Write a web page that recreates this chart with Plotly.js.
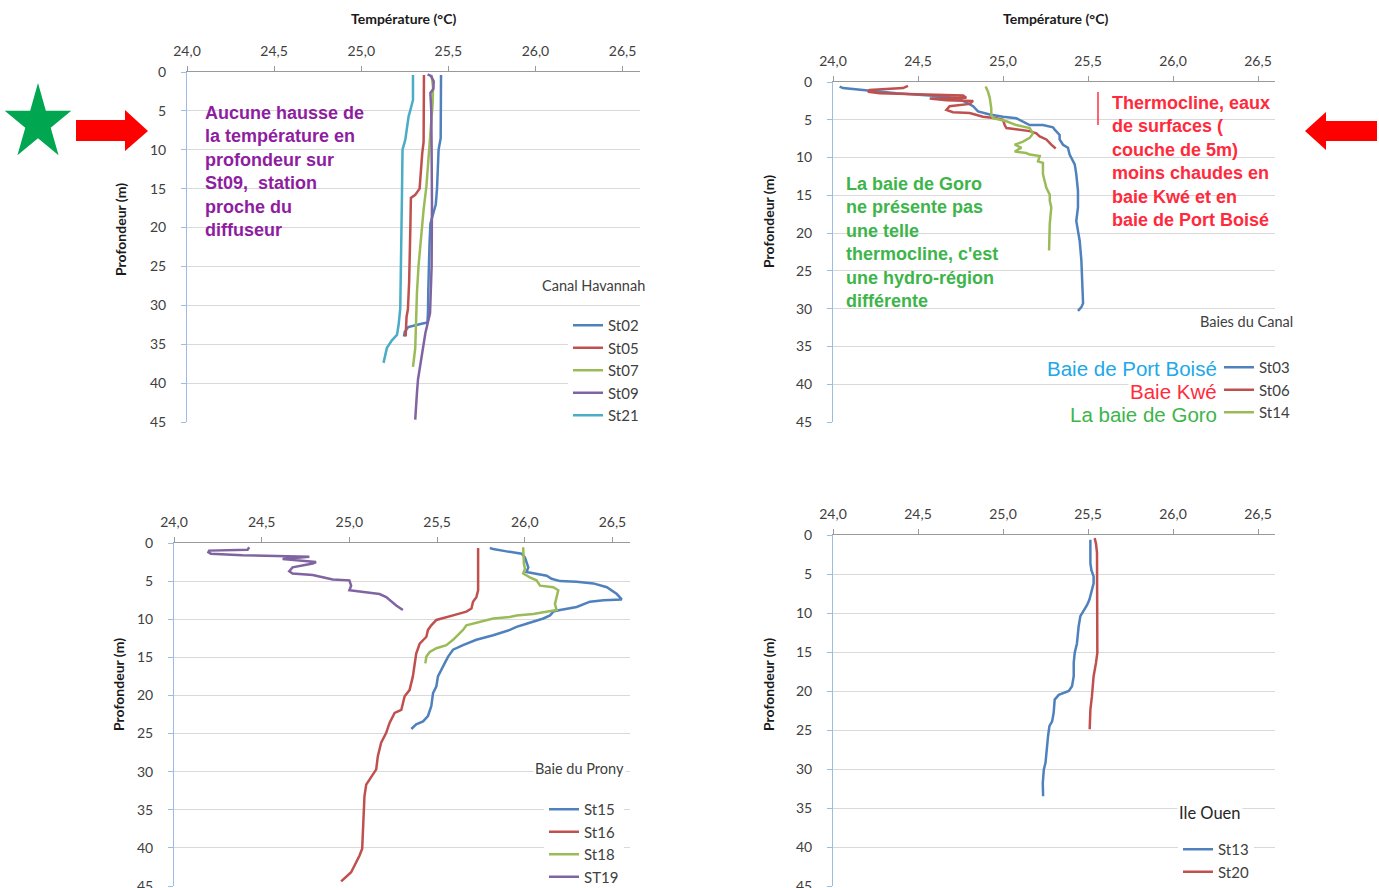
<!DOCTYPE html>
<html><head><meta charset="utf-8">
<script src="https://cdn.plot.ly/plotly-3.0.1.min.js"></script>
<style>html,body{margin:0;padding:0;background:#fff}#chart{width:1379px;height:888px}</style>
</head><body><div id="chart"></div>
<script>
// ---------- Canal Havannah ----------
const st02_T = [25.458,25.458,25.456,25.444,25.440,25.435,25.428,25.410,25.397,25.392,25.387,25.385,25.383,25.380,25.340,25.270,25.250,25.245];
const st02_D = [0.4,5,8.5,10,12.5,15,17,18.5,19.5,22,25,28,31,32.2,32.4,32.8,33.4,34];
const st05_T = [25.360,25.360,25.358,25.350,25.340,25.335,25.310,25.285,25.282,25.280,25.275,25.268,25.260,25.255];
const st05_D = [0.4,5,9,10.5,13,15,15.8,16.2,20,25,27,30.5,31.5,34];
const st07_T = [25.404,25.412,25.410,25.400,25.387,25.374,25.358,25.339,25.329,25.320,25.314,25.310,25.297];
const st07_D = [0.4,1.9,4,7,11.3,14.7,17.7,22.3,24.9,28.3,32.6,35.5,37.9];
const st09_T = [25.381,25.400,25.416,25.414,25.397,25.402,25.404,25.406,25.404,25.395,25.368,25.349,25.335,25.326,25.320,25.310];
const st09_D = [0.3,0.5,1.2,2.2,2.7,5,10,17,25,31,33.6,36.2,38.5,39.5,41.2,44.7];
const st21_T = [25.297,25.297,25.282,25.272,25.253,25.237,25.234,25.230,25.224,25.214,25.205,25.176,25.147,25.138,25.128];
const st21_D = [0.4,3.6,4.9,5.7,8.7,10,15.5,24,30.4,32.6,33.8,34.5,35.5,36.4,37.4];
// ---------- Baies du Canal ----------
const st03_T = [24.039,24.059,24.176,24.373,24.569,24.725,24.784,24.824,24.853,24.922,25.000,25.039,25.078,25.157,25.235,25.294,25.304,25.333,25.333,25.353,25.382,25.392,25.422,25.431,25.441,25.441,25.431,25.441,25.451,25.461,25.465,25.467,25.471,25.461,25.441];
const st03_D = [0.6,0.8,1.05,1.5,1.8,2.1,2.7,3.2,3.9,4.3,4.6,4.7,4.8,5.7,5.7,6.0,6.3,7.0,7.6,8.3,8.7,9.6,10.9,12.2,14.4,16.6,18.4,19.7,21,23.6,26.3,28.9,29.3,29.8,30.3];
const st06_T = [24.441,24.412,24.216,24.206,24.275,24.471,24.765,24.784,24.569,24.667,24.824,24.804,24.686,24.667,24.706,24.804,24.882,24.961,25.000,25.010,25.020,25.157,25.196,25.216,25.255,25.284,25.310];
const st06_D = [0.5,0.8,1.05,1.3,1.5,1.6,1.8,2.1,2.2,2.4,2.5,2.9,3.2,3.7,4.0,4.1,4.6,4.8,5.0,5.7,6.1,6.5,6.8,7.2,7.6,8.3,8.8];
const st14_T = [24.898,24.912,24.922,24.931,24.931,24.941,25.020,25.078,25.157,25.176,25.157,25.118,25.069,25.108,25.069,25.137,25.157,25.216,25.206,25.235,25.235,25.255,25.275,25.275,25.284,25.275,25.271];
const st14_D = [0.6,1.3,2.1,3.5,4.3,4.8,5.2,5.7,6.1,6.8,7.4,7.9,8.3,8.7,9.2,9.4,9.6,9.8,10.5,10.7,12.2,14.0,14.9,15.7,16.6,18.8,22.3];
// ---------- Baie du Prony ----------
const st15_T = [25.801,25.820,25.896,25.982,26.001,26.010,26.020,26.010,26.067,26.125,26.153,26.201,26.296,26.391,26.468,26.525,26.553,26.449,26.372,26.296,26.201,26.163,26.144,26.106,26.010,25.953,25.915,25.820,25.724,25.667,25.648,25.591,25.563,25.543,25.524,25.505,25.496,25.477,25.467,25.448,25.420,25.381,25.353];
const st15_D = [0.65,0.8,1.1,1.4,1.9,2.7,3.2,3.8,4.0,4.3,4.7,5.0,5.1,5.3,5.8,6.7,7.4,7.5,7.7,8.4,8.8,9.0,9.5,9.9,10.6,11.0,11.4,12.1,12.7,13.2,13.4,14.0,14.9,15.8,16.7,17.5,18.8,19.7,21.4,22.7,23.4,23.8,24.4];
const st16_T = [25.734,25.734,25.724,25.705,25.696,25.667,25.591,25.534,25.496,25.467,25.448,25.439,25.401,25.381,25.372,25.362,25.343,25.315,25.296,25.258,25.229,25.210,25.181,25.162,25.153,25.115,25.096,25.086,25.080,25.073,25.058,25.038,25.010,24.953];
const st16_D = [0.65,6.2,7.1,7.7,8.6,9.0,9.5,9.8,10.1,10.8,11.4,12.3,13.2,14.5,15.8,17.5,19.3,20.1,21.9,22.3,23.6,24.9,26.2,28.0,29.7,31.0,31.7,33.2,37.5,40.1,41.0,41.9,43.2,44.4];
const st18_T = [25.991,25.991,25.995,26.001,25.991,26.029,26.067,26.087,26.163,26.191,26.182,26.172,26.182,26.048,25.953,25.915,25.820,25.744,25.667,25.648,25.591,25.553,25.496,25.458,25.439,25.433];
const st18_D = [0.55,1.9,2.7,3.4,4.0,4.5,4.9,5.6,5.8,6.2,7.1,8.0,8.8,9.3,9.5,9.7,9.9,10.3,10.8,11.4,12.7,13.4,13.8,14.3,14.9,15.8];
const st19_T = [24.429,24.419,24.200,24.196,24.210,24.391,24.772,24.619,24.810,24.791,24.676,24.657,24.676,24.791,24.848,24.905,25.000,25.010,25.000,25.058,25.172,25.210,25.239,25.267,25.305];
const st19_D = [0.55,0.9,1.0,1.2,1.4,1.6,1.8,2.1,2.5,2.7,3.2,3.7,4.0,4.2,4.5,4.8,4.9,5.6,6.2,6.4,6.7,7.1,7.7,8.2,8.8];
// ---------- Ile Ouen ----------
const st13_T = [25.514,25.514,25.520,25.533,25.533,25.523,25.508,25.494,25.475,25.455,25.445,25.435,25.422,25.416,25.416,25.406,25.387,25.328,25.304,25.298,25.289,25.273,25.265,25.250,25.240,25.234,25.236];
const st13_D = [0.6,3.6,4.5,5.3,6.2,7.0,8.3,9.0,9.6,10.4,11.7,13.9,15.1,16.4,18.1,19.4,20.0,20.5,21.1,22.8,23.9,24.5,25.8,29.2,30.1,31.8,33.5];
const st20_T = [25.539,25.547,25.553,25.553,25.555,25.555,25.547,25.533,25.523,25.514,25.510];
const st20_D = [0.4,1.1,2.3,5.3,10.0,15.1,16.4,18.1,20.7,22.4,24.9];

const xTitle = 'Température (°C)';
const yTitle = 'Profondeur (m)';
const groupTitles = ['Canal Havannah','Baies du Canal','Baie du Prony','Ile Ouen'];

const W = 1379, H = 888;
const px = x => x / W, py = y => 1 - y / H;
const BLUE='#4F81BD', RED='#C0504D', GREEN='#9BBB59', PURPLE='#8064A2', CYAN='#4BACC6';

function tr(name, T, D, color, n) {
  const s = n === 1 ? '' : String(n);
  return {x: T, y: D, name: name, type: 'scatter', mode: 'lines',
    line: {color: color, width: 2.5}, xaxis: 'x' + s, yaxis: 'y' + s,
    legend: 'legend' + s, legendgroup: name, hoverinfo: 'skip', cliponaxis: false};
}
const data = [
  tr('St02', st02_T, st02_D, BLUE, 1), tr('St05', st05_T, st05_D, RED, 1),
  tr('St07', st07_T, st07_D, GREEN, 1), tr('St09', st09_T, st09_D, PURPLE, 1),
  tr('St21', st21_T, st21_D, CYAN, 1),
  tr('St03', st03_T, st03_D, BLUE, 2), tr('St06', st06_T, st06_D, RED, 2),
  tr('St14', st14_T, st14_D, GREEN, 2),
  tr('St15', st15_T, st15_D, BLUE, 3), tr('St16', st16_T, st16_D, RED, 3),
  tr('St18', st18_T, st18_D, GREEN, 3), tr('ST19', st19_T, st19_D, PURPLE, 3),
  tr('St13', st13_T, st13_D, BLUE, 4), tr('St20', st20_T, st20_D, RED, 4)
];

const tickFont = {family: 'Lato, sans-serif', size: 14, color: '#404040'};
function xa(l, r, yid) {
  return {domain: [px(l), px(r)], range: [24, 26.6], side: 'top', anchor: yid,
    tick0: 24, dtick: 0.5, tickformat: '.1f', showgrid: false, zeroline: false,
    showline: true, linecolor: '#9A9A9A', linewidth: 1, ticks: 'outside', ticklen: 5,
    tickcolor: '#9A9A9A', tickfont: tickFont, ticklabelstandoff: 4, fixedrange: true, automargin: false};
}
function ya(t, b, xid) {
  return {domain: [py(b), py(t)], range: [45, 0], anchor: xid, tick0: 0, dtick: 5,
    showgrid: true, gridcolor: '#D9D9D9', gridwidth: 1, zeroline: false,
    showline: true, linecolor: '#9DBBE3', linewidth: 1, ticks: 'outside', ticklen: 5,
    tickcolor: '#9DBBE3', tickfont: tickFont, ticklabelstandoff: 12, ticklabeloverflow: 'allow',
    fixedrange: true, automargin: false};
}
function lg(x, y) {
  return {x: px(x), y: py(y), xanchor: 'left', yanchor: 'top', bgcolor: 'rgba(255,255,255,1)',
    borderwidth: 0, font: {family: 'Lato, sans-serif', size: 15, color: '#404040'},
    itemwidth: 30, tracegroupgap: 0, traceorder: 'normal', itemclick: false, itemdoubleclick: false};
}

function ann(text, x, y, opts) {
  return Object.assign({text: text, x: px(x), y: py(y), xref: 'paper', yref: 'paper',
    showarrow: false, xanchor: 'left', yanchor: 'middle', align: 'left'}, opts || {});
}
const boldFont = (size, color) => ({family: 'Liberation Sans, Arial, sans-serif', size: size, color: color});
const titleFont = {family: 'Lato, sans-serif', size: 14, color: '#1a1a1a'};
const annotations = [
  ann('<b>' + xTitle + '</b>', 404, 18, {xanchor: 'center', font: titleFont}),
  ann('<b>' + xTitle + '</b>', 1055, 18, {xanchor: 'center', font: titleFont}),
  ann('<b>' + yTitle + '</b>', 120, 230, {xanchor: 'center', textangle: -90, font: titleFont}),
  ann('<b>' + yTitle + '</b>', 768, 222, {xanchor: 'center', textangle: -90, font: titleFont}),
  ann('<b>' + yTitle + '</b>', 118, 685, {xanchor: 'center', textangle: -90, font: titleFont}),
  ann('<b>' + yTitle + '</b>', 768, 685, {xanchor: 'center', textangle: -90, font: titleFont}),
  ann(groupTitles[0], 540, 285, {bgcolor: '#fff', font: {family: 'Lato, sans-serif', size: 14.5, color: '#404040'}}),
  ann(groupTitles[1], 1198, 322, {bgcolor: '#fff', font: {family: 'Lato, sans-serif', size: 14.5, color: '#404040'}}),
  ann(groupTitles[2], 533, 768, {bgcolor: '#fff', font: {family: 'Lato, sans-serif', size: 14.5, color: '#404040'}}),
  ann(groupTitles[3], 1177, 813, {bgcolor: '#fff', font: {family: 'Lato, sans-serif', size: 16.5, color: '#262626'}}),
  ann('<b>Aucune hausse de<br>la température en<br>profondeur sur<br>St09,  station<br>proche du<br>diffuseur</b>', 203, 101,
      {yanchor: 'top', font: boldFont(18, '#8E1D9F')}),
  ann('<b>La baie de Goro<br>ne présente pas<br>une telle<br>thermocline, c\'est<br>une hydro-région<br>différente</b>', 844, 172,
      {yanchor: 'top', font: boldFont(18, '#3DB54A')}),
  ann('<b>Thermocline, eaux<br>de surfaces (<br>couche de 5m)<br>moins chaudes en<br>baie Kwé et en<br>baie de Port Boisé</b>', 1110, 91,
      {yanchor: 'top', font: boldFont(18, '#FF2A3C')}),
  ann('Baie de Port Boisé', 1219, 368, {xanchor: 'right', align: 'right', bgcolor: '#fff', font: boldFont(20.5, '#20A8E8')}),
  ann('Baie Kwé', 1219, 391, {xanchor: 'right', align: 'right', bgcolor: '#fff', font: boldFont(20.5, '#FF2A3C')}),
  ann('La baie de Goro', 1219, 414, {xanchor: 'right', align: 'right', bgcolor: '#fff', font: boldFont(20.5, '#3DB54A')})
];

function pathFrom(pts) {
  return 'M' + pts.map(p => px(p[0]) + ',' + py(p[1])).join('L') + 'Z';
}
function starPts(cx, cy, rx, ry) {
  const pts = [];
  for (let i = 0; i < 10; i++) {
    const a = -Math.PI / 2 + i * Math.PI / 5;
    const k = i % 2 === 0 ? 1 : 0.382;
    pts.push([cx + rx * k * Math.cos(a), cy + ry * k * Math.sin(a)]);
  }
  return pts;
}
const shapes = [
  {type: 'path', xref: 'paper', yref: 'paper', path: pathFrom(starPts(38, 123, 35, 40)), fillcolor: '#00A650', line: {width: 0}},
  {type: 'path', xref: 'paper', yref: 'paper', path: pathFrom([[76,120],[125,120],[125,110],[148,131],[125,151],[125,141],[76,141]]), fillcolor: '#FF0000', line: {width: 0}},
  {type: 'path', xref: 'paper', yref: 'paper', path: pathFrom([[1377,121],[1326,121],[1326,112],[1305,131],[1326,150],[1326,141],[1377,141]]), fillcolor: '#FF0000', line: {width: 0}},
  {type: 'line', xref: 'paper', yref: 'paper', x0: px(1098), x1: px(1098), y0: py(92), y1: py(125), line: {color: '#FF3040', width: 1.5}}
];

const layout = {
  width: W, height: H, margin: {l: 0, r: 0, t: 0, b: 0, autoexpand: false},
  paper_bgcolor: '#fff', plot_bgcolor: '#fff', separators: ', ',
  showlegend: true,
  xaxis: xa(187, 640, 'y'), yaxis: ya(72, 422, 'x'),
  xaxis2: xa(833, 1275, 'y2'), yaxis2: ya(82, 422, 'x2'),
  xaxis3: xa(174, 630, 'y3'), yaxis3: ya(543, 886, 'x3'),
  xaxis4: xa(833, 1275, 'y4'), yaxis4: ya(535, 886, 'x4'),
  legend: lg(568, 309), legend2: lg(1219, 351), legend3: lg(544, 793), legend4: lg(1178, 833),
  annotations: annotations, shapes: shapes
};
Plotly.newPlot('chart', data, layout, {staticPlot: true, displayModeBar: false});
</script></body></html>
